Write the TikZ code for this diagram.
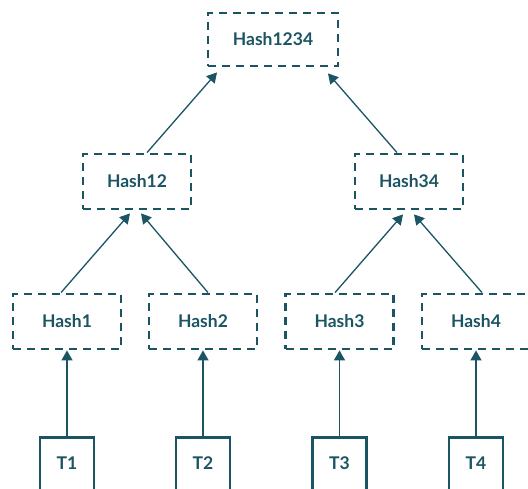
\documentclass[tikz,border=0pt]{standalone}
\usepackage{fontspec}
\setmainfont{Lato}
\usetikzlibrary{arrows.meta,calc}
\definecolor{teal}{RGB}{27,85,99}
\tikzset{
  lbl/.style={text=teal, font=\fontsize{17.5}{20}\selectfont\bfseries},
  hashbox/.style={lbl, draw=teal, line width=2.8pt, dash pattern=on 8pt off 6pt,
    minimum width=108pt, minimum height=55pt, inner sep=0pt},
  txbox/.style={draw=teal, line width=2.8pt, minimum width=54pt, minimum height=60pt,
    inner sep=0pt},
  link/.style={draw=teal, line width=1.3pt, -{Triangle[length=10pt,width=11pt]}}
}
\begin{document}
\begin{tikzpicture}[x=1pt,y=-1pt]
  \useasboundingbox[fill=white] (0,0) rectangle (528,489);
  % hash tree
  \node[hashbox, minimum width=130pt, minimum height=53pt] (h1234) at (273,39.5) {Hash1234};
  \node[hashbox] (h12) at (137,181.5) {Hash12};
  \node[hashbox] (h34) at (409,181.5) {Hash34};
  \node[hashbox] (h1) at (67,321.5) {Hash1};
  \node[hashbox] (h2) at (203,321.5) {Hash2};
  \node[hashbox] (h3) at (339.5,321.5) {Hash3};
  \node[hashbox] (h4) at (476,321.5) {Hash4};
  % transactions
  \node[txbox, anchor=north] (t1) at (67,436) {};
  \node[txbox, anchor=north] (t2) at (203,436) {};
  \node[txbox, anchor=north] (t3) at (339.5,436) {};
  \node[txbox, anchor=north] (t4) at (476,436) {};
  \node[lbl] (l1) at (67,463) {T1};
  \node[lbl] (l2) at (203,463) {T2};
  \node[lbl] (l3) at (339.5,463) {T3};
  \node[lbl] (l4) at (476,463) {T4};
  % links
  \foreach \t/\h in {t1/h1, t2/h2, t3/h3, t4/h4}
    \draw[link] (\t.north) -- (\h.south);
  \draw[link] ($(h1.north)+(-6,0)$) -- ($(h12.south)+(-7,3)$);
  \draw[link] ($(h2.north)+(5,0)$) -- ($(h12.south)+(4,3)$);
  \draw[link] ($(h3.north)+(-4.5,0)$) -- ($(h34.south)+(-6,4)$);
  \draw[link] ($(h4.north)+(6,0)$) -- ($(h34.south)+(5,4)$);
  \draw[link] ($(h12.north)+(10,0)$) -- ($(h1234.south)+(-56,5)$);
  \draw[link] ($(h34.north)+(-12,0)$) -- ($(h1234.south)+(55,6)$);
\end{tikzpicture}
\end{document}
